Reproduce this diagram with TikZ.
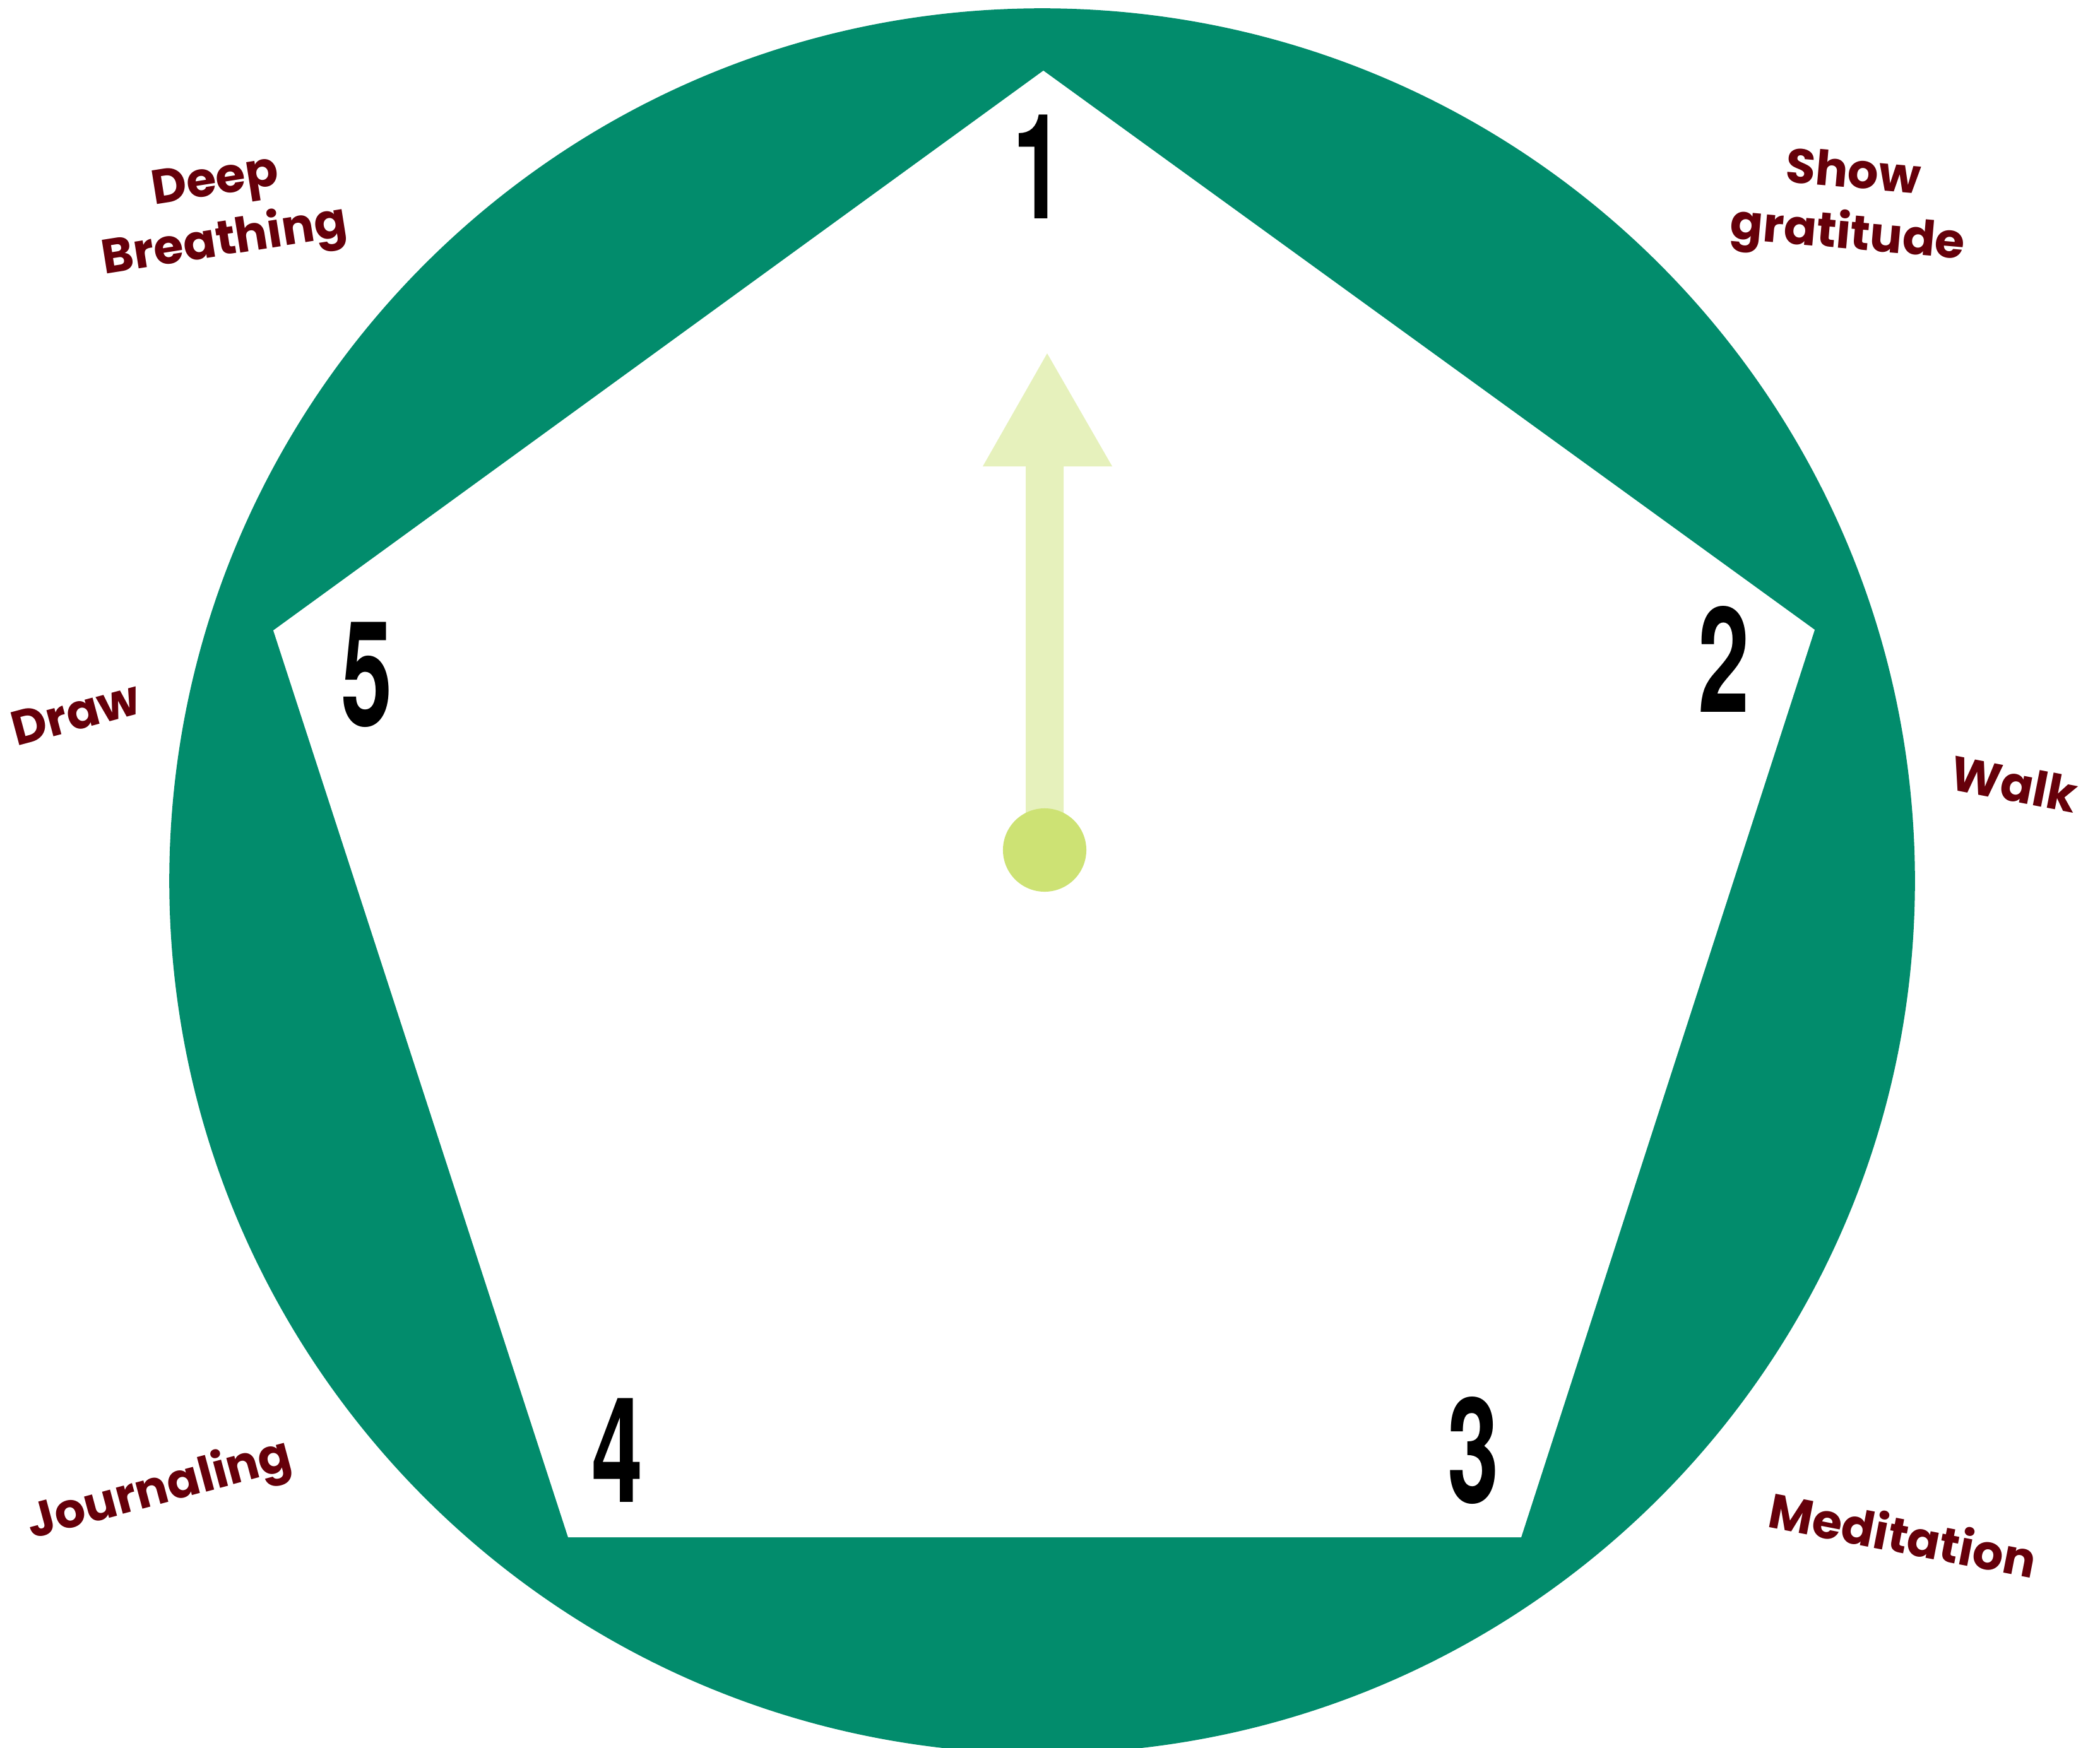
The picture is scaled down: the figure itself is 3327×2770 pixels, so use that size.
\documentclass[tikz,border=0pt]{standalone}
\usepackage{fontspec}
\usepackage{graphicx}
\newfontfamily\labfont{Poppins}
\newfontfamily\numfont{TeX Gyre Heros}
\definecolor{ringgreen}{HTML}{028C6C}
\definecolor{labred}{HTML}{66000A}
\definecolor{arrowgreen}{HTML}{E6F1BC}
\definecolor{dotgreen}{HTML}{CDE274}
\begin{document}
\begin{tikzpicture}[x=0.01cm,y=-0.01cm,
  lab/.style={text=labred, font=\labfont\bfseries\fontsize{21.8}{27.5}\selectfont, align=center, inner sep=0pt},
  num/.style={text=black, font=\numfont\bfseries\fontsize{66}{70}\selectfont, inner sep=0pt}]
\useasboundingbox (0,0) rectangle (3327,2770);
\clip (0,0) rectangle (3327,2770);
% ring
\fill[ringgreen] (1651,1396) circle[radius=13.82cm];
% pentagon
\fill[white] (1653,112) -- (2875,998) -- (2410,2436) -- (900,2436) -- (433,999) -- cycle;
% arrow
\fill[arrowgreen] (1625,1350) -- (1625,739) -- (1557,739) -- (1659,560) -- (1762,739) -- (1685,739) -- (1685,1350) -- cycle;
\fill[dotgreen] (1655,1347) circle[radius=0.66cm];
% numbers
\node[num] (n1) at (1645,264) {\scalebox{0.63}[1]{1}};
\node[num] (n2) at (2731,1044) {\scalebox{0.63}[1]{2}};
\node[num] (n3) at (2334,2298) {\scalebox{0.63}[1]{3}};
\node[num] (n4) at (978,2298) {\scalebox{0.63}[1]{4}};
\node[num] (n5) at (581,1069) {\scalebox{0.63}[1]{5}};
% labels
\node[lab, rotate=9] (deep) at (349,340) {Deep\\Breathing};
\node[lab, rotate=-5] (grat) at (2931,328) {Show\\gratitude};
\node[lab, rotate=-11] (walk) at (3191,1242) {Walk};
\node[lab, rotate=-11] (med) at (3015,2431) {Meditation};
\node[lab, rotate=15] (jour) at (253,2363) {Journaling};
\node[lab, rotate=15] (drw) at (120,1130) {Draw};
\end{tikzpicture}
\end{document}
